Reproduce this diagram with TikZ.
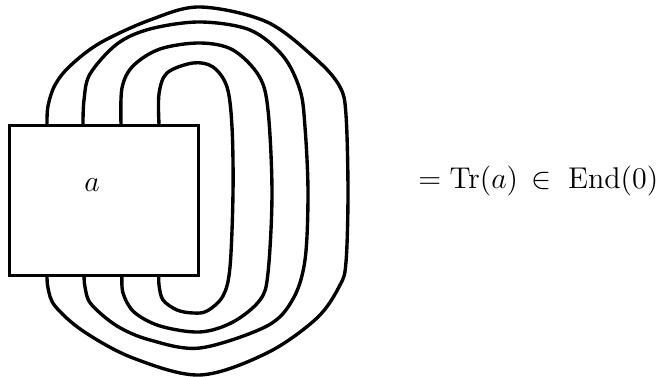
\documentclass[tikz,border=0pt,12pt]{standalone}
\usepackage{amsmath,amssymb}

\begin{document}
\begin{tikzpicture}[x=0.4pt,y=-0.4pt,
  strand/.style={line width=1.35pt,line join=round}]
  \useasboundingbox (0,0) rectangle (662,377);
  \coordinate (t1) at (47,124);
  \coordinate (t2) at (83,124);
  \coordinate (t3) at (121,124);
  \coordinate (t4) at (159,124);
  \coordinate (b1) at (47,274);
  \coordinate (b2) at (84,274);
  \coordinate (b3) at (122,274);
  \coordinate (b4) at (159,274);
  \draw[strand] plot[smooth,tension=0.55] coordinates {(t1) (48,106) (55,85) (70,66) (100,43) (150,20) (200,7) (267,22) (317,60) (340,87) (346,115) (348,193) (346,262) (340,285) (317,318) (267,353) (200,375) (133,358) (83,331) (55,306) (48,288) (b1)};
  \draw[strand] plot[smooth,tension=0.55] coordinates {(t2) (84,100) (90,74) (117,44) (150,29) (200,22) (250,30) (283,56) (300,90) (305,127) (308,193) (305,260) (293,299) (267,326) (200,348) (150,340) (117,326) (91,304) (85,287) (b2)};
  \draw[strand] plot[smooth,tension=0.55] coordinates {(t3) (122,88) (133,66) (160,49) (200,43) (233,50) (259,76) (268,110) (272,193) (268,273) (260,300) (233,322) (200,332) (160,326) (134,312) (123,293) (b3)};
  \draw[strand] plot[smooth,tension=0.55] coordinates {(t4) (159,94) (167,73) (193,63) (213,67) (227,87) (232,127) (233,193) (230,267) (223,296) (207,311) (193,313) (177,310) (163,300) (159,285) (b4)};
  \node[draw,fill=white,line width=1.05pt,inner sep=0pt,anchor=north west,
        minimum width=75.6pt,minimum height=60pt] (box) at (8,124) {};
  \node[inner sep=0pt,anchor=base] (alabel) at (92,192) {$a$};
  \node[inner sep=0pt,anchor=base west] (trace) at (418,189) {$=\mathrm{Tr}(a)\,\in\;\mathrm{End}(0)$};
\end{tikzpicture}
\end{document}
